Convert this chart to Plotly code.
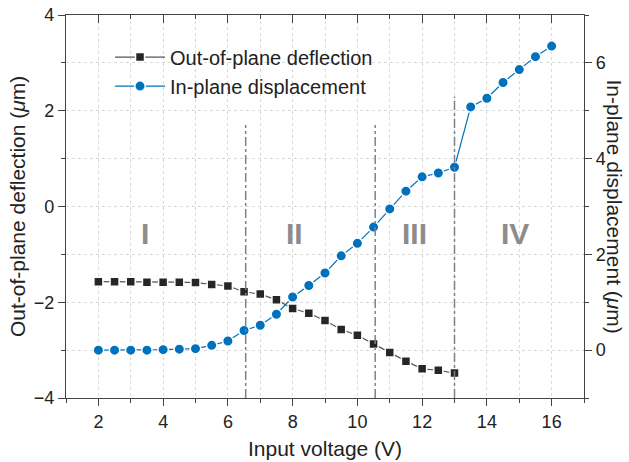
import plotly.graph_objects as go

# ---- data ----
volt_out = [2.0, 2.5, 3.0, 3.5, 4.0, 4.5, 5.0, 5.5, 6.0, 6.5, 7.0, 7.5, 8.0, 8.5,
            9.0, 9.5, 10.0, 10.5, 11.0, 11.5, 12.0, 12.5, 13.0]
deflection = [-1.57, -1.57, -1.57, -1.58, -1.58, -1.58, -1.59, -1.63, -1.66, -1.78,
              -1.83, -1.95, -2.13, -2.23, -2.38, -2.57, -2.69, -2.87, -3.05, -3.23,
              -3.39, -3.42, -3.48]

volt_in = [2.0, 2.5, 3.0, 3.5, 4.0, 4.5, 5.0, 5.5, 6.0, 6.5, 7.0, 7.5, 8.0, 8.5,
           9.0, 9.5, 10.0, 10.5, 11.0, 11.5, 12.0, 12.5, 13.0, 13.5, 14.0, 14.5,
           15.0, 15.5, 16.0]
displacement = [0.0, 0.0, 0.0, 0.0, 0.01, 0.02, 0.03, 0.10, 0.19, 0.41, 0.52, 0.75,
                1.11, 1.35, 1.61, 1.97, 2.23, 2.57, 2.95, 3.32, 3.62, 3.70, 3.82,
                5.08, 5.26, 5.59, 5.86, 6.13, 6.35]

region_labels = ["I", "II", "III", "IV"]
region_x = [3.45, 8.07, 11.77, 14.86]
region_y = [-0.56, -0.56, -0.56, -0.56]

boundary_x = [6.55, 10.55, 13.0]
boundary_top = [1.70, 1.70, 2.30]

x_ticks = [2, 4, 6, 8, 10, 12, 14, 16]
left_ticks = [-4, -2, 0, 2, 4]
right_ticks = [0, 2, 4, 6]

FONT = "Liberation Sans"
AXC = "#444444"
GRID = "#d9d9d9"
BLUE = "#0072BD"

fig = go.Figure()

fig.add_trace(go.Scatter(
    x=volt_out, y=deflection, name="Out-of-plane deflection",
    mode="lines+markers",
    line=dict(color="#555555", width=1.2),
    marker=dict(symbol="square", size=9, color="#262626",
                line=dict(color="white", width=1.5)),
    yaxis="y"))

fig.add_trace(go.Scatter(
    x=volt_in, y=displacement, name="In-plane displacement",
    mode="lines+markers",
    line=dict(color=BLUE, width=1.2),
    marker=dict(symbol="circle", size=10.5, color=BLUE,
                line=dict(color="white", width=1.5)),
    yaxis="y2"))

# invisible trace to carry the top tick axis
fig.add_trace(go.Scatter(x=volt_in, y=displacement, xaxis="x2", yaxis="y2",
                         mode="lines", line=dict(width=0), opacity=0,
                         showlegend=False, hoverinfo="skip"))

for bx, bt in zip(boundary_x, boundary_top):
    fig.add_shape(type="line", xref="x", yref="y", x0=bx, x1=bx, y0=-4, y1=bt,
                  line=dict(color="#808080", width=1.5, dash="dashdot"), layer="above")

for lab, rx, ry in zip(region_labels, region_x, region_y):
    fig.add_annotation(x=rx, y=ry, xref="x", yref="y", text="<b>%s</b>" % lab,
                       showarrow=False, font=dict(family=FONT, size=30, color="#8c8c8c"),
                       xanchor="center", yanchor="middle")

# axis titles
fig.add_annotation(x=(17 - 65.5) / 518.5, y=0.5, xref="paper", yref="paper",
                   text="Out-of-plane deflection (<i>μ</i>m)", textangle=-90,
                   showarrow=False, xanchor="center", yanchor="middle",
                   font=dict(family=FONT, size=21, color="#222222"))
fig.add_annotation(x=(615 - 65.5) / 518.5, y=0.5, xref="paper", yref="paper",
                   text="In-plane displacement (<i>μ</i>m)", textangle=90,
                   showarrow=False, xanchor="center", yanchor="middle",
                   font=dict(family=FONT, size=21, color="#222222"))
fig.add_annotation(x=0.5, y=-(448 - 398) / 383, xref="paper", yref="paper",
                   text="Input voltage (V)", showarrow=False,
                   xanchor="center", yanchor="middle",
                   font=dict(family=FONT, size=21, color="#222222"))

tickfont = dict(family=FONT, size=18, color="#222222")

fig.update_layout(
    width=629, height=462,
    margin=dict(l=66, r=45, t=15, b=64),
    paper_bgcolor="white", plot_bgcolor="white",
    font=dict(family=FONT, color="#222222"),
    showlegend=True,
    legend=dict(x=0.085, y=0.941, xanchor="left", yanchor="top",
                bgcolor="rgba(0,0,0,0)", font=dict(family=FONT, size=20, color="#222222"),
                tracegroupgap=0, itemwidth=50),
    xaxis=dict(range=[1, 17], tickvals=x_ticks, ticks="outside", ticklen=7,
               tickcolor=AXC, tickwidth=1.2, tickfont=tickfont, automargin=False,
               showline=True, linecolor=AXC, linewidth=1.2, mirror=True,
               showgrid=True, gridcolor=GRID, griddash="dot", gridwidth=1,
               zeroline=False,
               minor=dict(dtick=1, tick0=0, ticks="outside", ticklen=4,
                          tickcolor=AXC, showgrid=True, gridcolor=GRID, griddash="dot")),
    xaxis2=dict(range=[1, 17], overlaying="x", side="top", anchor="y",
                tickvals=x_ticks, ticks="inside", ticklen=8, tickcolor=AXC,
                tickwidth=1.2, showticklabels=False, showgrid=False, automargin=False,
                showline=False, zeroline=False,
                minor=dict(dtick=1, tick0=0, ticks="inside", ticklen=4,
                           tickcolor=AXC, showgrid=False)),
    yaxis=dict(range=[-4, 4], tickvals=left_ticks, ticks="outside", ticklen=7,
               tickcolor=AXC, tickwidth=1.2, tickfont=tickfont, automargin=False,
               showline=True, linecolor=AXC, linewidth=1.2, mirror=True,
               showgrid=True, gridcolor=GRID, griddash="dot", gridwidth=1,
               zeroline=False,
               minor=dict(dtick=1, tick0=0, ticks="outside", ticklen=4,
                          tickcolor=AXC, showgrid=True, gridcolor=GRID, griddash="dot")),
    yaxis2=dict(range=[-1, 7], tickvals=right_ticks, overlaying="y", side="right",
                ticks="outside", ticklen=7, tickcolor=AXC, tickwidth=1.2,
                tickfont=tickfont, showline=True, linecolor=AXC, linewidth=1.2,
                showgrid=False, zeroline=False, automargin=False,
                minor=dict(dtick=1, tick0=0, ticks="outside", ticklen=4, tickcolor=AXC)),
)

fig.write_html("out.html")
